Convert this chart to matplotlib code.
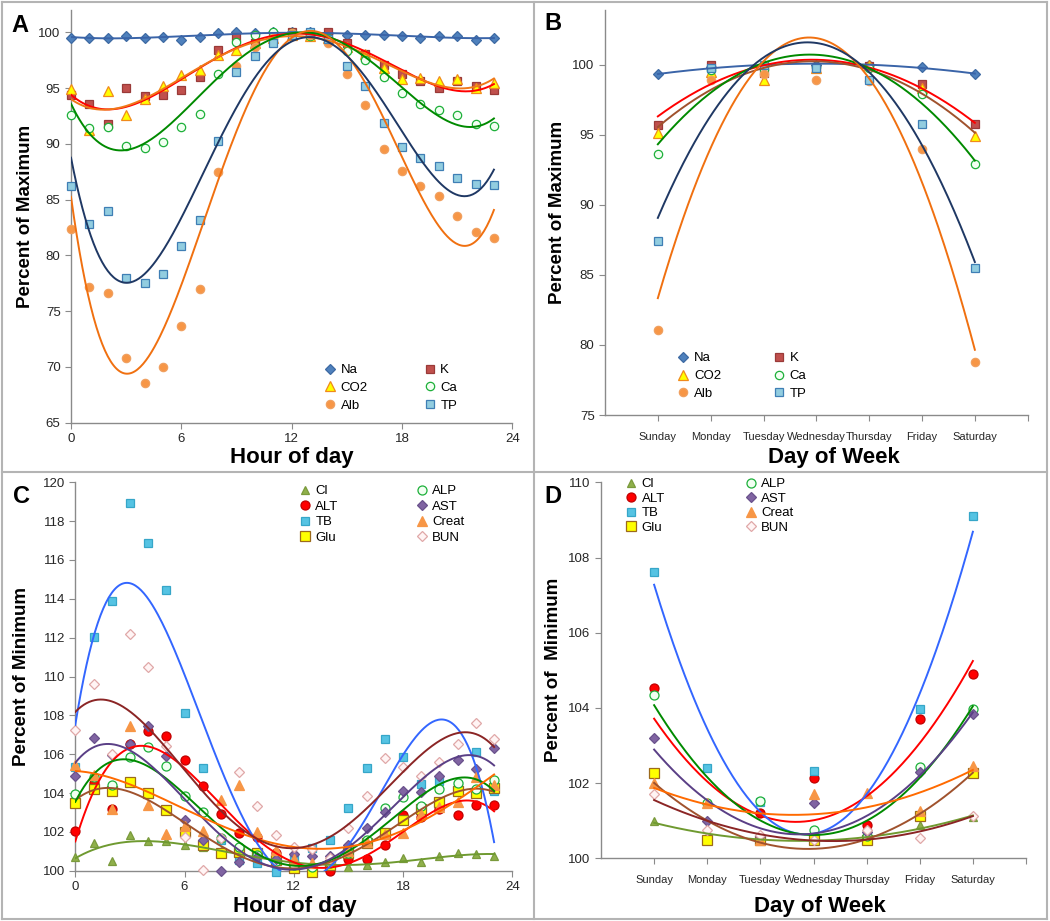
import numpy as np
import matplotlib
matplotlib.use('Agg')
import matplotlib.pyplot as plt
from matplotlib.lines import Line2D

plt.rcParams['font.family'] = ['Liberation Sans', 'DejaVu Sans']

W, H = 1050, 921

# ---------------- data ----------------
hours = np.arange(24)
days = ['Sunday', 'Monday', 'Tuesday', 'Wednesday', 'Thursday', 'Friday', 'Saturday']

# panel A: percent of maximum by hour
a_na = [99.5, 99.5, 99.5, 99.7, 99.5, 99.6, 99.3, 99.55, 99.9, 100.0, 99.95, 100.0,
        100.0, 100.0, 99.9, 99.8, 99.8, 99.8, 99.7, 99.45, 99.65, 99.65, 99.35, 99.5]
a_k = [94.4, 93.6, 91.8, 95.0, 94.3, 94.4, 94.8, 96.0, 98.4, 99.6, 99.0, 99.5,
       100.0, 99.8, 100.0, 99.0, 98.1, 97.1, 96.3, 95.6, 95.0, 95.6, 95.2, 94.8]
a_co2 = [94.9, 91.2, 94.7, 92.6, 94.0, 95.2, 96.2, 96.6, 98.0, 98.4, 99.0, 99.5,
         99.8, 99.7, 99.5, 98.7, 98.1, 96.8, 95.8, 95.9, 95.6, 95.8, 95.0, 95.5]
a_ca = [92.6, 91.4, 91.5, 89.8, 89.6, 90.2, 91.5, 92.7, 96.3, 99.1, 99.8, 100.0,
        99.9, 99.7, 99.5, 98.3, 97.5, 96.0, 94.6, 93.6, 93.0, 92.6, 91.8, 91.6]
a_alb = [82.4, 77.2, 76.6, 70.8, 68.6, 70.0, 73.7, 77.0, 87.5, 97.0, 98.7, 99.5,
         99.9, 99.8, 99.0, 96.3, 93.5, 89.5, 87.6, 86.2, 85.3, 83.5, 82.1, 81.6]
a_tp = [86.2, 82.8, 84.0, 78.0, 77.5, 78.3, 80.8, 83.2, 90.3, 96.4, 97.9, 99.0,
        99.8, 100.0, 99.4, 97.0, 95.2, 91.9, 89.7, 88.7, 88.0, 86.9, 86.4, 86.3]

# panel B: percent of maximum by weekday
b_na = [99.3, 99.8, 100.0, 100.0, 100.0, 99.8, 99.35]
b_k = [95.7, 100.0, 99.4, 99.8, 99.9, 98.6, 95.75]
b_co2 = [95.1, 99.5, 98.9, 99.75, 100.0, 98.3, 94.9]
b_ca = [93.6, 99.6, 99.7, 99.8, 99.75, 97.9, 92.9]
b_alb = [81.1, 98.9, 99.3, 98.9, 98.8, 94.0, 78.8]
b_tp = [87.4, 99.75, 100.0, 99.75, 98.9, 95.8, 85.5]

# panel C: percent of minimum by hour
c_cl = [100.72, 101.41, 100.51, 101.84, 101.53, 101.53, 101.32, 101.2, 101.0, 100.9, 100.98, 100.6,
        100.3, 100.2, 100.2, 100.17, 100.3, 100.43, 100.67, 100.43, 100.75, 100.93, 100.86, 100.75]
c_alt = [102.04, 104.5, 103.16, 106.52, 107.2, 106.95, 105.7, 104.36, 102.9, 101.96, 101.75, 100.9,
         100.4, 100.0, 100.0, 100.58, 100.58, 101.32, 102.87, 102.78, 103.2, 102.87, 103.38, 103.4]
c_tb = [105.36, 112.05, 113.9, 118.95, 116.86, 114.45, 108.1, 105.3, 101.6, 100.55, 100.4, 99.95,
        100.64, 101.15, 101.58, 103.24, 105.3, 106.76, 105.84, 104.46, 104.62, 104.4, 106.13, 104.1]
c_glu = [103.47, 104.19, 104.12, 104.58, 104.0, 103.1, 102.0, 101.32, 100.9, 100.95, 100.92, 100.55,
         100.12, 99.95, 100.3, 100.92, 101.41, 101.96, 102.6, 103.2, 103.55, 104.12, 104.0, 104.24]
c_alp = [103.93, 104.8, 104.4, 105.84, 106.35, 105.4, 103.84, 103.04, 101.67, 101.2, 100.8, 100.5,
         100.3, 100.2, 100.4, 100.9, 101.6, 103.21, 103.8, 103.33, 104.2, 104.5, 104.2, 104.67]
c_ast = [104.87, 106.85, 105.96, 106.5, 107.47, 105.9, 102.6, 101.58, 100.0, 100.46, 100.7, 100.6,
         100.86, 100.77, 100.75, 101.3, 102.18, 103.04, 104.12, 104.07, 104.9, 105.7, 105.22, 106.33]
c_creat = [105.44, 104.93, 103.2, 107.47, 103.38, 101.9, 102.3, 102.04, 103.64, 104.4, 102.0, 101.06,
           100.6, 100.4, 100.6, 101.0, 101.5, 101.9, 101.92, 102.9, 103.3, 103.55, 104.84, 104.4]
c_bun = [107.24, 109.6, 106.0, 112.17, 110.5, 106.4, 101.75, 100.03, 101.7, 105.1, 103.33, 101.84,
         101.24, 101.1, 100.64, 102.18, 103.84, 105.82, 105.36, 104.88, 105.61, 106.52, 107.62, 106.76]

# panel D: percent of minimum by weekday
d_cl = [100.98, 100.6, 100.5, 100.5, 100.5, 100.89, 101.09]
d_alt = [104.54, 100.5, 101.21, 102.13, 100.89, 103.7, 104.9]
d_tb = [107.62, 102.39, 101.49, 102.32, 100.49, 103.96, 109.1]
d_glu = [102.26, 100.5, 100.49, 100.5, 100.5, 101.13, 102.26]
d_alp = [104.33, 101.46, 101.53, 100.74, 100.6, 102.42, 103.96]
d_ast = [103.2, 101.0, 100.6, 101.46, 100.7, 102.3, 103.84]
d_creat = [102.0, 101.46, 100.49, 101.7, 101.75, 101.26, 102.46]
d_bun = [101.7, 100.75, 100.62, 100.5, 100.74, 100.55, 101.13]

# ---------------- styles ----------------
# name: (marker, size, face, edge, fit colour)
sty_top = {
    'Na':  ('D', 5.0, '#4f81bd', '#3d6aa3', '#3a64a8'),
    'K':   ('s', 5.5, '#c0504d', '#9a3a38', '#ff0000'),
    'CO2': ('^', 6.5, '#ffff00', '#f08a1c', '#f07818'),
    'Ca':  ('o', 6.0, '#f2fff2', '#1db03a', '#008a00'),
    'Alb': ('o', 6.0, '#f79646', '#f0a060', '#f07010'),
    'TP':  ('s', 6.0, '#92cde0', '#3f7fb5', '#1f3864'),
}
sty_bot = {
    'Cl':    ('^', 6.0, '#8fb04a', '#7a9a3c', '#6f9a30'),
    'ALT':   ('o', 6.5, '#ff0000', '#c00000', '#ff0000'),
    'TB':    ('s', 6.0, '#55c3e3', '#36a6c8', '#3366ff'),
    'Glu':   ('s', 6.5, '#ffff00', '#9c6a1c', '#a0522d'),
    'ALP':   ('o', 6.5, '#f2fff2', '#1db03a', '#008a00'),
    'AST':   ('D', 5.0, '#8064a2', '#6a528c', '#5a3f86'),
    'Creat': ('^', 6.5, '#f79646', '#f79646', '#ff6a00'),
    'BUN':   ('D', 5.0, '#fff4f4', '#e0a8a8', '#8b2525'),
}


def fig_box(left, top, right, bottom):
    return [left / W, 1 - bottom / H, (right - left) / W, (bottom - top) / H]


def style_axes(ax):
    for s in ['top', 'right']:
        ax.spines[s].set_visible(False)
    for s in ['left', 'bottom']:
        ax.spines[s].set_color('#8a8a8a')
        ax.spines[s].set_linewidth(1.0)
    ax.tick_params(axis='both', direction='out', color='#8a8a8a', labelsize=9.5,
                   labelcolor='#262626', length=4)


def draw(ax, x, series, sty, deg, xfit):
    for name, vals in series:
        m, ms, fc, ec, lc = sty[name]
        ax.plot(x, vals, linestyle='none', marker=m, ms=ms, mfc=fc, mec=ec,
                mew=0.9, zorder=3, label=name, clip_on=False)
    # polynomial trend lines (least squares on the points above)
    for name, vals in series:
        lc = sty[name][4]
        coef = np.polyfit(x, vals, deg)
        ax.plot(xfit, np.polyval(coef, xfit), color=lc, lw=1.4, zorder=4)


def legend(ax, order, sty, anchor, spacing, lspace):
    handles = []
    for name in order:
        m, ms, fc, ec, lc = sty[name]
        handles.append(Line2D([], [], linestyle='none', marker=m, ms=ms, mfc=fc, mec=ec,
                              mew=0.9, label=name))
    ax.legend(handles=handles, ncol=2, frameon=False, loc='upper left',
              bbox_to_anchor=anchor, fontsize=9.5, handletextpad=0.3,
              columnspacing=spacing, labelspacing=lspace, handlelength=1.0,
              borderpad=0, borderaxespad=0)


fig = plt.figure(figsize=(10.5, 9.21), dpi=100)

# panel borders
for (x0, y0, x1, y1) in [(2, 2, 1047, 2), (2, 919, 1047, 919), (2, 2, 2, 919),
                         (1047, 2, 1047, 919), (534, 2, 534, 919), (2, 472, 1047, 472)]:
    fig.add_artist(Line2D([x0 / W, x1 / W], [1 - y0 / H, 1 - y1 / H],
                          color='#b4b4b4', lw=1.5))

hfit = np.linspace(0, 23, 300)
dx = np.arange(1, 8)
dfit = np.linspace(1, 7, 200)

# ---- A ----
axA = fig.add_axes(fig_box(71, 10, 512.3, 422.7))
style_axes(axA)
draw(axA, hours, [('Na', a_na), ('K', a_k), ('CO2', a_co2), ('Ca', a_ca),
                  ('Alb', a_alb), ('TP', a_tp)], sty_top, 4, hfit)
axA.set_xlim(0, 24)
axA.set_ylim(65, 102)
axA.set_xticks([0, 6, 12, 18, 24])
axA.set_yticks(np.arange(65, 101, 5))
legend(axA, ['Na', 'CO2', 'Alb', 'K', 'Ca', 'TP'], sty_top, (0.572, 0.142), 4.2, 0.42)

# ---- B ----
axB = fig.add_axes(fig_box(605, 10, 1027.7, 415))
style_axes(axB)
draw(axB, dx, [('Na', b_na), ('K', b_k), ('CO2', b_co2), ('Ca', b_ca),
               ('Alb', b_alb), ('TP', b_tp)], sty_top, 2, dfit)
axB.lines[-4].set_color('#a0522d')
axB.set_xlim(0, 8)
axB.set_ylim(75, 103.9)
axB.set_yticks(np.arange(75, 101, 5))
axB.set_xticks(np.arange(1, 9))
axB.set_xticklabels(days + [''], fontsize=8)
axB.tick_params(axis='x', pad=8)
legend(axB, ['Na', 'CO2', 'Alb', 'K', 'Ca', 'TP'], sty_top, (0.17, 0.155), 3.9, 0.42)

# ---- C ----
axC = fig.add_axes(fig_box(75.3, 482.3, 512.3, 870.7))
style_axes(axC)
draw(axC, hours, [('Cl', c_cl), ('ALT', c_alt), ('TB', c_tb), ('Glu', c_glu),
                  ('ALP', c_alp), ('AST', c_ast), ('Creat', c_creat), ('BUN', c_bun)],
     sty_bot, 4, hfit)
axC.set_xlim(0, 24)
axC.set_ylim(100, 120)
axC.set_xticks([0, 6, 12, 18, 24])
axC.set_yticks(np.arange(100, 121, 2))
legend(axC, ['Cl', 'ALT', 'TB', 'Glu', 'ALP', 'AST', 'Creat', 'BUN'], sty_bot,
       (0.51, 0.993), 5.8, 0.25)

# ---- D ----
axD = fig.add_axes(fig_box(601, 482.3, 1026, 858.3))
style_axes(axD)
draw(axD, dx, [('Cl', d_cl), ('ALT', d_alt), ('TB', d_tb), ('Glu', d_glu),
               ('ALP', d_alp), ('AST', d_ast), ('Creat', d_creat), ('BUN', d_bun)],
     sty_bot, 2, dfit)
axD.set_xlim(0, 8)
axD.set_ylim(100, 110)
axD.set_yticks(np.arange(100, 111, 2))
axD.set_xticks(np.arange(1, 9))
axD.set_xticklabels(days + [''], fontsize=8)
axD.tick_params(axis='x', pad=8)
legend(axD, ['Cl', 'ALT', 'TB', 'Glu', 'ALP', 'AST', 'Creat', 'BUN'], sty_bot,
       (0.055, 1.011), 6.0, 0.17)

# ---- texts ----
def ftext(x, y, s, **kw):
    fig.text(x / W, 1 - y / H, s, ha='center', va='center', **kw)

ftext(20, 25, 'A', fontsize=17, fontweight='bold')
ftext(553, 24, 'B', fontsize=17, fontweight='bold')
ftext(21, 496, 'C', fontsize=17, fontweight='bold')
ftext(553, 496, 'D', fontsize=17, fontweight='bold')

ftext(292, 457, 'Hour of day', fontsize=16, fontweight='bold')
ftext(834, 457, 'Day of Week', fontsize=16, fontweight='bold')
ftext(295, 906, 'Hour of day', fontsize=16, fontweight='bold')
ftext(820, 906, 'Day of Week', fontsize=16, fontweight='bold')

ftext(26, 216, 'Percent of Maximum', fontsize=13.5, fontweight='bold', rotation=90)
ftext(558, 212, 'Percent of Maximum', fontsize=13.5, fontweight='bold', rotation=90)
ftext(22, 676, 'Percent of Minimum', fontsize=13.5, fontweight='bold', rotation=90)
ftext(553, 670, 'Percent of  Minimum', fontsize=13.5, fontweight='bold', rotation=90)

fig.savefig('out.png', dpi=100)
